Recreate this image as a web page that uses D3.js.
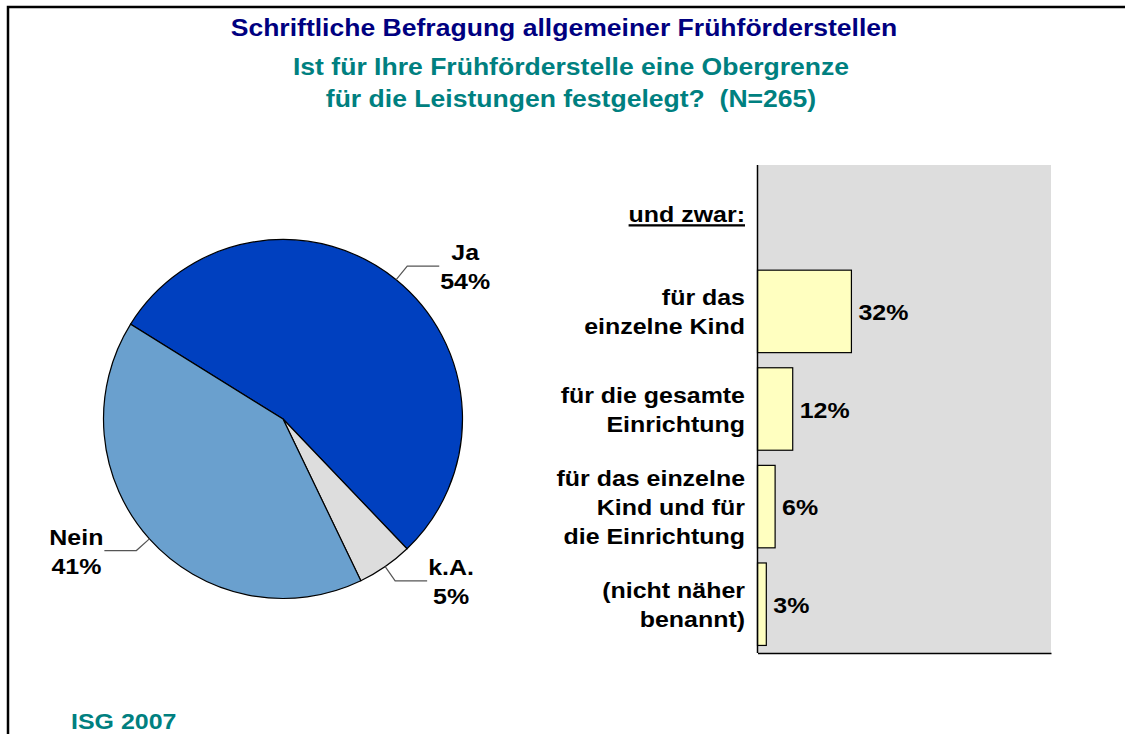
<!DOCTYPE html>
<html><head><meta charset="utf-8">
<script src="https://cdn.jsdelivr.net/npm/d3@7"></script>
<style>
body{margin:0;background:#fff}
svg{display:block}
text{font-family:"Liberation Sans",Arial,sans-serif;font-weight:bold;white-space:pre}
</style>
</head><body>
<svg id="c" width="1125" height="734"></svg>
<script>
// ---- data ----
const titleLine = "Schriftliche Befragung allgemeiner Frühförderstellen";
const subtitleLines = ["Ist für Ihre Frühförderstelle eine Obergrenze", "für die Leistungen festgelegt?  (N=265)"];
const pieCategories = ["Ja", "k.A.", "Nein"];
const pieValues = [54, 5, 41];
const barCategories = [
  ["und zwar:"],
  ["für das", "einzelne Kind"],
  ["für die gesamte", "Einrichtung"],
  ["für das einzelne", "Kind und für", "die Einrichtung"],
  ["(nicht näher", "benannt)"]
];
const barValues = [null, 32, 12, 6, 3];
const footerText = "ISG 2007";

// ---- style ----
const SX_T = 1.13, SX = 1.085;
const pieColors = {"Ja": "#0040BF", "k.A.": "#DDDDDD", "Nein": "#6AA0CE"};
const svg = d3.select("#c");

function stext(g, x, y, str, size, color, anchor, sx) {
  const t = g.append("g").attr("transform", `translate(${x},${y}) scale(${sx || SX},1)`)
    .append("text").attr("font-size", size).attr("fill", color)
    .attr("text-anchor", anchor || "start").text(str);
  return t;
}

// border
svg.append("path").attr("d", "M8,740 L8,7 L1130,7").attr("fill", "none").attr("stroke", "#000").attr("stroke-width", 2.5);

// titles
stext(svg, 564, 36, titleLine, 23.5, "#000080", "middle", SX_T);
stext(svg, 571, 74.5, subtitleLines[0], 23.5, "#008080", "middle", SX_T);
stext(svg, 571, 106.5, subtitleLines[1], 23.5, "#008080", "middle", SX_T);

// ---- pie ----
const cx = 283, cy = 419, R = 179.5;
const startA = -58.1 * Math.PI / 180;
const pie = d3.pie().sort(null).value(d => d.v).startAngle(startA).endAngle(startA + 2 * Math.PI);
const pieData = pie(pieCategories.map((c, i) => ({c, v: pieValues[i]})));
const arc = d3.arc().innerRadius(0).outerRadius(R);
const pg = svg.append("g").attr("transform", `translate(${cx},${cy})`);
pg.selectAll("path.slice").data(pieData).join("path").attr("class", "slice")
  .attr("d", arc).attr("fill", d => pieColors[d.data.c]).attr("stroke", "#000").attr("stroke-width", 1.2);

const LH = 29;
pieData.forEach(d => {
  const a = (d.startAngle + d.endAngle) / 2;
  const p0 = [Math.sin(a) * R, -Math.cos(a) * R];
  const p1 = [Math.sin(a) * 197, -Math.cos(a) * 197];
  const dir = Math.sin(a) >= 0 ? 1 : -1;
  const p2 = [p1[0] + dir * 32, p1[1]];
  pg.append("polyline").attr("points", [p0, p1, p2].map(p => p.join(",")).join(" "))
    .attr("fill", "none").attr("stroke", "#555").attr("stroke-width", 1.2);
  const lines = [d.data.c, d3.format(".0f")(d.data.v) + "%"];
  const tmp = lines.map(l => { const t = stext(pg, 0, 0, l, 23, "#000"); const w = t.node().getComputedTextLength() * SX; t.node().parentNode.remove(); return w; });
  const w = d3.max(tmp);
  const xc = p2[0] + dir * (w / 2 + 1);
  lines.forEach((l, i) => stext(pg, xc, p2[1] - 6 + i * LH, l, 23, "#000", "middle"));
});

// ---- bars ----
const x0 = 757.5, x1 = 1051, y0 = 165, y1 = 653;
const x = d3.scaleLinear().domain([0, 100]).range([x0, x1]);
const y = d3.scaleBand().domain(d3.range(barCategories.length)).range([y0, y1]).paddingInner(0.155).paddingOuter(0.0775);
svg.append("rect").attr("x", x0).attr("y", y0).attr("width", x1 - x0).attr("height", y1 - y0).attr("fill", "#DDDDDD");

svg.selectAll("rect.bar").data(barValues.map((v, i) => ({v, i})).filter(d => d.v != null)).join("rect")
  .attr("class", "bar").attr("x", x(0)).attr("y", d => y(d.i)).attr("width", d => x(d.v) - x(0))
  .attr("height", y.bandwidth()).attr("fill", "#FFFFC0").attr("stroke", "#000").attr("stroke-width", 1.2);

barValues.forEach((v, i) => {
  if (v == null) return;
  stext(svg, x(v) + 7, y(i) + y.bandwidth() / 2 + 8.5, v + "%", 23, "#000", "start");
});

const ax = svg.append("g").attr("transform", `translate(${x0},0)`)
  .call(d3.axisLeft(y).tickSize(0).tickSizeOuter(0).tickFormat(""));
const bx = svg.append("g").attr("transform", `translate(0,${y1})`)
  .call(d3.axisBottom(x).tickValues([]).tickSizeOuter(0));
ax.select(".domain").attr("d", `M0,${y0}V${y1}`).attr("stroke", "#000").attr("stroke-width", 1.5);
bx.select(".domain").attr("stroke", "#000").attr("stroke-width", 1.5);

barCategories.forEach((lines, i) => {
  const c = y(i) + y.bandwidth() / 2;
  const n = lines.length;
  lines.forEach((l, k) => {
    const t = stext(svg, 745, c - (n - 1) * LH / 2 + k * LH + 8.5, l, 23, "#000", "end");
    if (i === 0) t.attr("text-decoration", "underline");
  });
});

// footer
stext(svg, 71, 729, footerText, 23, "#008080", "start");
</script>
</body></html>
